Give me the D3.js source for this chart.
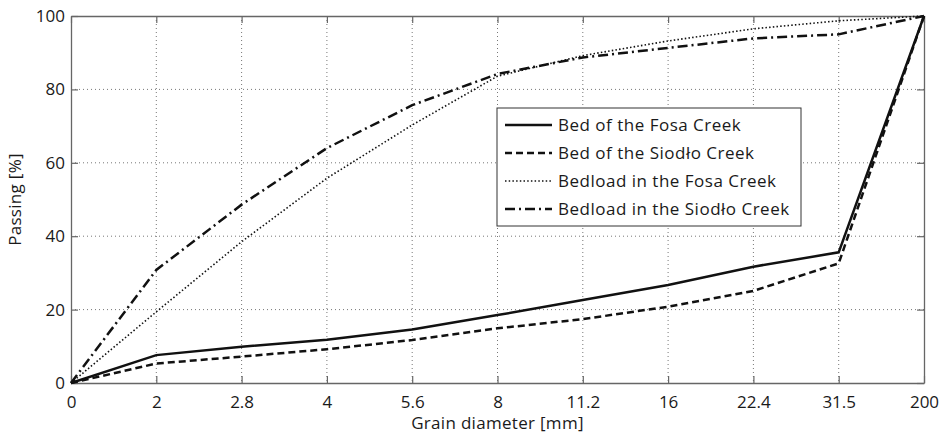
<!DOCTYPE html>
<html>
<head>
<meta charset="utf-8">
<script src="https://cdn.jsdelivr.net/npm/d3@7"></script>
<style>
  body { margin: 0; background: #fff; }
  svg text { font-family: "Open Sans", "Noto Sans", sans-serif; fill: #1a1a1a; }
</style>
</head>
<body>
<div id="chart"></div>
<script>
'use strict';

// sieve sizes (equally spaced categories on the x axis)
const grainSizes = ['0', '2', '2.8', '4', '5.6', '8', '11.2', '16', '22.4', '31.5', '200'];
const yTicks = [0, 20, 40, 60, 80, 100];

const bedFosa      = [0, 7.6, 9.9, 11.8, 14.6, 18.5, 22.6, 26.7, 31.7, 35.6, 100];
const bedSiodlo    = [0, 5.3, 7.2, 9.2, 11.7, 14.9, 17.4, 20.8, 25.1, 32.6, 100];
const bedloadFosa  = [0, 19.4, 38.5, 55.8, 70.3, 83.6, 89.2, 93.2, 96.5, 98.7, 100];
const bedloadSiodlo = [0, 30.8, 48.6, 64.0, 75.7, 84.2, 88.7, 91.3, 93.9, 95.0, 100];

const seriesNames = ['Bed of the Fosa Creek', 'Bed of the Siodło Creek',
    'Bedload in the Fosa Creek', 'Bedload in the Siodło Creek'];

const series = [
    {name: seriesNames[0], values: bedFosa,       dash: null,          width: 2.5},
    {name: seriesNames[1], values: bedSiodlo,     dash: '7,4',         width: 2.5},
    {name: seriesNames[2], values: bedloadFosa,   dash: '1.5,2.2',     width: 1.6},
    {name: seriesNames[3], values: bedloadSiodlo, dash: '10,4,2,4',    width: 2.5}
];

const W = 946, H = 433;
const margin = {top: 16, right: 22, bottom: 50, left: 71};
const width = W - margin.left - margin.right;
const height = H - margin.top - margin.bottom;

const svg = d3.select('#chart').append('svg')
    .attr('width', W)
    .attr('height', H)
    .append('g')
    .attr('transform', 'translate(' + margin.left + ',' + margin.top + ')');

const x = d3.scalePoint().domain(grainSizes).range([0, width]);
const y = d3.scaleLinear().domain([0, 100]).range([height, 0]);

// grid
svg.append('g').selectAll('line').data(grainSizes.slice(1, -1)).enter()
    .append('line')
    .attr('x1', d => x(d)).attr('x2', d => x(d))
    .attr('y1', 0).attr('y2', height)
    .attr('stroke', '#777').attr('stroke-width', 1)
    .attr('stroke-dasharray', '1,3');

svg.append('g').selectAll('line').data(yTicks.slice(1, -1)).enter()
    .append('line')
    .attr('x1', 0).attr('x2', width)
    .attr('y1', d => y(d)).attr('y2', d => y(d))
    .attr('stroke', '#777').attr('stroke-width', 1)
    .attr('stroke-dasharray', '1,3');

// axes with inward ticks
const xAxis = svg.append('g')
    .attr('transform', 'translate(0,' + height + ')')
    .call(d3.axisBottom(x).tickSizeInner(-7).tickSizeOuter(0).tickPadding(13));
const yAxis = svg.append('g')
    .call(d3.axisLeft(y).tickValues(yTicks).tickSizeInner(-7).tickSizeOuter(0).tickPadding(6));
const xTop = svg.append('g')
    .call(d3.axisTop(x).tickSizeInner(-7).tickSizeOuter(0).tickFormat(''));
const yRight = svg.append('g')
    .attr('transform', 'translate(' + width + ',0)')
    .call(d3.axisRight(y).tickValues(yTicks).tickSizeInner(-7).tickSizeOuter(0).tickFormat(''));

[xAxis, yAxis, xTop, yRight].forEach(function (a) {
    a.selectAll('path').attr('stroke', '#666').attr('stroke-width', 1.3);
    a.selectAll('line').attr('stroke', '#666').attr('stroke-width', 1.2);
    a.selectAll('text').style('font-size', '17px').attr('fill', '#1a1a1a');
});

// lines
const line = d3.line()
    .x((d, i) => x(grainSizes[i]))
    .y(d => y(d));

svg.selectAll('.series').data(series).enter()
    .append('path')
    .attr('class', 'series')
    .attr('d', d => line(d.values))
    .attr('fill', 'none')
    .attr('stroke', '#111')
    .attr('stroke-width', d => d.width)
    .attr('stroke-dasharray', d => d.dash);

// legend
const legend = svg.append('g').attr('transform', 'translate(' + (497 - margin.left) + ',' + (108 - margin.top) + ')');
legend.append('rect')
    .attr('width', 304).attr('height', 118)
    .attr('fill', '#fff').attr('stroke', '#333').attr('stroke-width', 1);

const rows = legend.selectAll('.row').data(series).enter()
    .append('g')
    .attr('transform', (d, i) => 'translate(0,' + (17 + i * 28) + ')');
rows.append('line')
    .attr('x1', 8).attr('x2', 55)
    .attr('stroke', '#111')
    .attr('stroke-width', d => d.width)
    .attr('stroke-dasharray', d => d.dash);
rows.append('text')
    .attr('x', 61).attr('dy', '0.35em')
    .style('font-size', '17px')
    .style('letter-spacing', '0.5px')
    .text(d => d.name);

// axis titles
svg.append('text')
    .attr('x', width / 2).attr('y', height + 46)
    .attr('text-anchor', 'middle')
    .style('font-size', '17px')
    .style('letter-spacing', '0.3px')
    .text('Grain diameter [mm]');

svg.append('text')
    .attr('transform', 'translate(' + (-50) + ',' + (height / 2) + ') rotate(-90)')
    .attr('text-anchor', 'middle')
    .style('font-size', '17px')
    .style('letter-spacing', '0.3px')
    .text('Passing [%]');
</script>
</body>
</html>
